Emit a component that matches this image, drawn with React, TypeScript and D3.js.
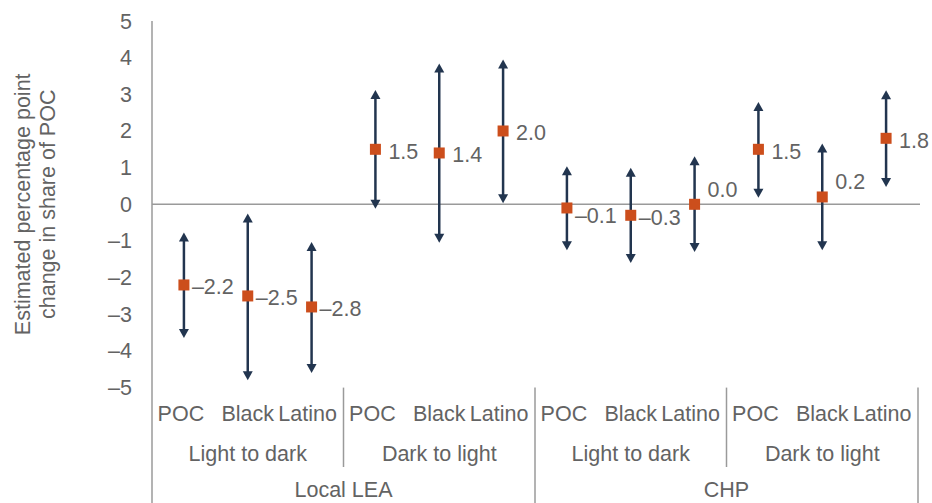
import React from "react";
import * as d3 from "d3";

const outerGroups = ["Local LEA", "CHP"];
const middleGroups = ["Light to dark", "Dark to light"];
const innerGroups = ["POC", "Black", "Latino"];

const estimates = [-2.2, -2.5, -2.8, 1.5, 1.4, 2.0, -0.1, -0.3, 0.0, 1.5, 0.2, 1.8];
const lowerCI = [-3.65, -4.8, -4.6, -0.12, -1.05, 0.03, -1.25, -1.6, -1.3, 0.18, -1.25, 0.47];
const upperCI = [-0.77, -0.25, -1.03, 3.12, 3.84, 3.95, 1.04, 1.0, 1.31, 2.79, 1.66, 3.11];
const yTicks = [-5, -4, -3, -2, -1, 0, 1, 2, 3, 4, 5];

const W = 932;
const H = 503;
const left = 152;
const right = 918;
const top = 21;
const bottom = 387.6;

const TEXT = "#636363";
const AXIS = "#9a9a9a";
const NAVY = "#22354f";
const ORANGE = "#cc4e1c";
const FONT = "'Liberation Sans', Arial, sans-serif";
const FS = 21.5;

const fmt = (v: number) => (v < 0 ? "\u2013" + Math.abs(v).toFixed(1) : v.toFixed(1));
const fmtTick = (v: number) => (v < 0 ? "\u2013" + Math.abs(v) : String(v));

export default function App() {
  const cats: { key: string; outer: string; middle: string; inner: string }[] = [];
  outerGroups.forEach((o) =>
    middleGroups.forEach((m) =>
      innerGroups.forEach((i) => cats.push({ key: `${o}|${m}|${i}`, outer: o, middle: m, inner: i }))
    )
  );
  const x = d3.scaleBand<string>().domain(cats.map((c) => c.key)).range([left, right]).padding(0);
  const y = d3.scaleLinear().domain([-5, 5]).range([bottom, top]);
  const bw = x.bandwidth();

  const ah = 9; // arrow head length
  const aw = 5; // arrow half width

  const midBands: { x0: number; x1: number; label: string }[] = [];
  outerGroups.forEach((o) =>
    middleGroups.forEach((m) => {
      const keys = innerGroups.map((i) => `${o}|${m}|${i}`);
      midBands.push({ x0: x(keys[0])!, x1: x(keys[2])! + bw, label: m });
    })
  );
  const outBands = outerGroups.map((o) => {
    const k0 = `${o}|${middleGroups[0]}|${innerGroups[0]}`;
    const k1 = `${o}|${middleGroups[1]}|${innerGroups[2]}`;
    return { x0: x(k0)!, x1: x(k1)! + bw, label: o };
  });

  const innerShift = [-3, 0, -4];

  return (
    <svg
      width={W}
      height={H}
      style={{ position: "absolute", left: 0, top: 0, background: "#fff" }}
      fontFamily={FONT}
    >
      {/* y title */}
      <g transform={`translate(0,${y(0)}) rotate(-90)`} fill={TEXT} fontSize={FS} textAnchor="middle">
        <text x={0} y={30}>Estimated percentage point</text>
        <text x={0} y={55}>change in share of POC</text>
      </g>
      {/* y ticks */}
      {yTicks.map((t) => (
        <text key={t} x={132} y={y(t) + 7.5} textAnchor="end" fontSize={FS} fill={TEXT}>
          {fmtTick(t)}
        </text>
      ))}
      {/* axes */}
      <line x1={left} x2={left} y1={top} y2={H} stroke={AXIS} strokeWidth={1.5} />
      <line x1={left} x2={right + 2} y1={y(0)} y2={y(0)} stroke={AXIS} strokeWidth={1.5} />
      {/* separators */}
      {midBands.slice(0, -1).map((b, i) => {
        const isOuter = (i + 1) % middleGroups.length === 0;
        return (
          <line key={i} x1={b.x1} x2={b.x1} y1={bottom} y2={isOuter ? H : 467} stroke={AXIS} strokeWidth={1.5} />
        );
      })}
      <line x1={right} x2={right} y1={bottom} y2={H} stroke={AXIS} strokeWidth={1.5} />
      {/* category labels */}
      {cats.map((c) => {
        const j = innerGroups.indexOf(c.inner);
        return (
          <text key={c.key} x={x(c.key)! + bw / 2 + innerShift[j]} y={421} textAnchor="middle" fontSize={FS} fill={TEXT}>
            {c.inner}
          </text>
        );
      })}
      {midBands.map((b, i) => (
        <text key={i} x={(b.x0 + b.x1) / 2} y={461} textAnchor="middle" fontSize={FS} fill={TEXT}>
          {b.label}
        </text>
      ))}
      {outBands.map((b, i) => (
        <text key={i} x={(b.x0 + b.x1) / 2} y={497} textAnchor="middle" fontSize={FS} fill={TEXT}>
          {b.label}
        </text>
      ))}
      {/* error bars */}
      {cats.map((c, i) => {
        const cx = x(c.key)! + bw / 2;
        const yt = y(upperCI[i]);
        const yb = y(lowerCI[i]);
        const v = estimates[i];
        const cy = y(v);
        const near = Math.abs(v) <= 0.25;
        const dy = near ? (v >= 0 ? -15 : 8) : 2;
        const dx = v < 0 ? 8 : 13;
        return (
          <g key={c.key}>
            <line x1={cx} x2={cx} y1={yt + ah - 1} y2={yb - ah + 1} stroke={NAVY} strokeWidth={2.5} />
            <path d={`M${cx},${yt} L${cx + aw},${yt + ah} L${cx - aw},${yt + ah} Z`} fill={NAVY} />
            <path d={`M${cx},${yb} L${cx + aw},${yb - ah} L${cx - aw},${yb - ah} Z`} fill={NAVY} />
            <rect x={cx - 5.5} y={cy - 5.5} width={11} height={11} fill={ORANGE} />
            <text x={cx + dx} y={cy + dy + 7.5} fontSize={FS} fill={TEXT}>
              {fmt(v)}
            </text>
          </g>
        );
      })}
    </svg>
  );
}
